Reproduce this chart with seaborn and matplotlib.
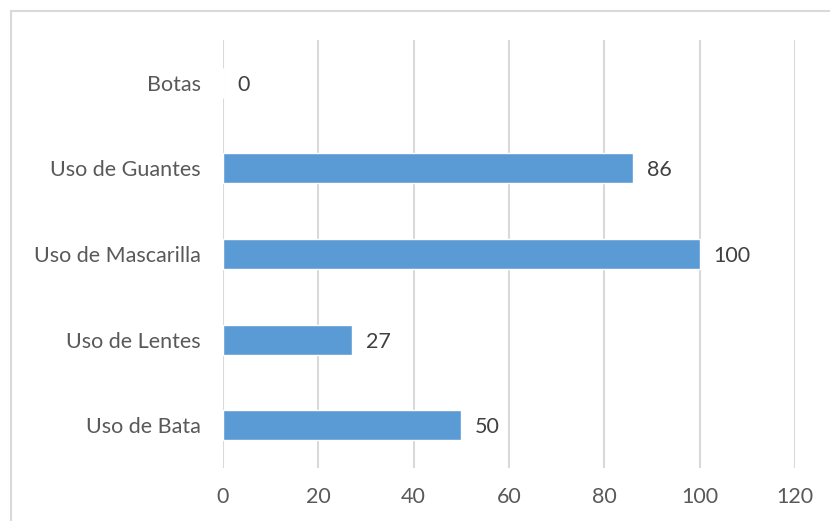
import matplotlib
matplotlib.use("Agg")
import matplotlib.pyplot as plt
import seaborn as sns
import pandas as pd
from matplotlib.patches import Rectangle

categories = ["Botas", "Uso de Guantes", "Uso de Mascarilla", "Uso de Lentes", "Uso de Bata"]
values = [0, 86, 100, 27, 50]
xticks = [0, 20, 40, 60, 80, 100, 120]

sns.set_theme(style="white")
plt.rcParams['font.family'] = ['Lato', 'DejaVu Sans']

df = pd.DataFrame({"cat": categories, "val": values})

fig = plt.figure(figsize=(8.3, 5.21), dpi=100)
ax = fig.add_axes([223/830, 1-468/521, (795-223)/830, (468-40)/521])

sns.barplot(data=df, y="cat", x="val", orient="h", color="#5B9BD5",
            width=0.35, saturation=1, ax=ax, order=categories)

ax.set_xlim(0, 120)
ax.set_ylim(4.5, -0.5)
ax.set_xticks(xticks)
ax.set_xticklabels([str(t) for t in xticks])
ax.grid(axis="x", color="#D9D9D9", linewidth=1.5)
ax.set_axisbelow(True)
for s in ax.spines.values():
    s.set_visible(False)
ax.set_xlabel("")
ax.set_ylabel("")
ax.tick_params(axis="both", length=0, labelsize=15.5, labelcolor="#595959")
ax.tick_params(axis="y", pad=16)
ax.tick_params(axis="x", pad=14)

for i, v in enumerate(values):
    ax.annotate(str(v), xy=(v, i), xytext=(10, -1.5), textcoords="offset points",
                ha="left", va="center", fontsize=15.5, color="#404040")

fig.patches.append(Rectangle((11/830, -0.1), 1.2, 1-11/521+0.1, transform=fig.transFigure,
                             fill=False, edgecolor="#D9D9D9", linewidth=1.5, zorder=10))

fig.savefig("out.png", dpi=100)
